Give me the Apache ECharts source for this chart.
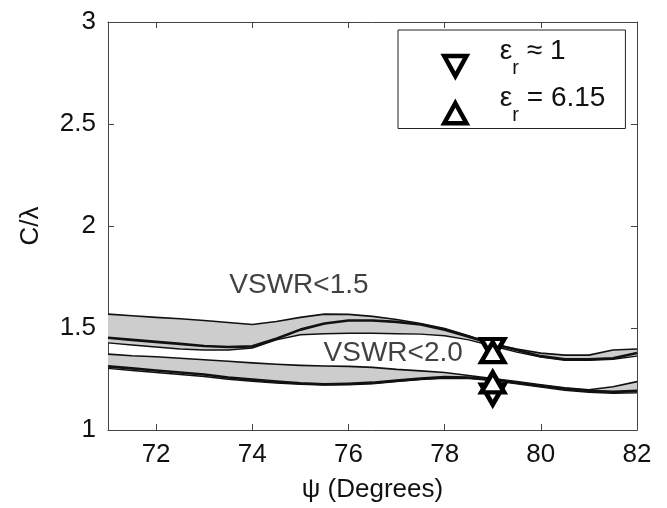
<!DOCTYPE html>
<html>
<head>
<meta charset="utf-8">
<script src="https://cdn.jsdelivr.net/npm/echarts@6/dist/echarts.min.js"></script>
<style>
  html, body { margin: 0; padding: 0; background: #fff; }
  #chart { width: 667px; height: 508px; }
</style>
</head>
<body>
<div id="chart"></div>
<script>
// Datos
const psi = [71, 71.5, 72, 72.5, 73, 73.5, 74, 74.5, 75, 75.5, 76, 76.5, 77, 77.5, 78, 78.5, 79, 79.5, 80, 80.5, 81, 81.5, 82];

// Grupo VSWR<1.5
const vswr15Top = [1.568, 1.560, 1.552, 1.545, 1.537, 1.527, 1.517, 1.532, 1.552, 1.568, 1.567, 1.557, 1.542, 1.522, 1.497, 1.462, 1.422, 1.397, 1.377, 1.367, 1.367, 1.392, 1.397];
const vswr15Mid = [1.452, 1.442, 1.432, 1.422, 1.412, 1.407, 1.410, 1.447, 1.492, 1.522, 1.537, 1.537, 1.530, 1.517, 1.492, 1.457, 1.422, 1.392, 1.362, 1.347, 1.347, 1.352, 1.377];
const vswr15Low = [1.427, 1.417, 1.407, 1.397, 1.392, 1.392, 1.402, 1.442, 1.467, 1.472, 1.474, 1.474, 1.472, 1.470, 1.462, 1.442, 1.412, 1.382, 1.357, 1.342, 1.342, 1.347, 1.362];

// Grupo VSWR<2.0
const vswr20Top = [1.372, 1.364, 1.359, 1.352, 1.344, 1.337, 1.329, 1.322, 1.317, 1.314, 1.312, 1.307, 1.297, 1.290, 1.282, 1.267, 1.252, 1.237, 1.222, 1.207, 1.197, 1.212, 1.237];
const vswr20Mid = [1.312, 1.302, 1.292, 1.282, 1.272, 1.257, 1.247, 1.237, 1.229, 1.224, 1.227, 1.232, 1.242, 1.252, 1.259, 1.257, 1.247, 1.232, 1.217, 1.202, 1.192, 1.187, 1.192];
const vswr20Low = [1.302, 1.292, 1.282, 1.272, 1.262, 1.249, 1.239, 1.230, 1.224, 1.220, 1.222, 1.227, 1.237, 1.247, 1.254, 1.252, 1.242, 1.227, 1.210, 1.195, 1.185, 1.180, 1.182];

// Marcadores en psi = 79
const marcadoresEr1 = [[79, 1.397], [79, 1.174]];
const marcadoresEr615 = [[79, 1.382], [79, 1.233]];
const nombresLeyenda = ['εr ≈ 1', 'εr = 6.15'];

// Anotaciones
const anotaciones = [[74.97, 1.711, 'VSWR<1.5'], [76.93, 1.377, 'VSWR<2.0']];

const xTicks = [72, 74, 76, 78, 80, 82];
const yTicks = [1, 1.5, 2, 2.5, 3];

const FUENTE = '"Liberation Sans", Arial, Helvetica, sans-serif';

const pares = arr => psi.map((x, i) => [x, arr[i]]);

// Banda gris entre dos curvas (polígono en coordenadas de los ejes)
function banda(inferior, superior) {
    return {
        type: 'custom', silent: true, z: 1, clip: true,
        data: [[psi[0], superior[0]]],
        renderItem: (params, api) => {
            const pts = psi.map((x, i) => api.coord([x, superior[i]]));
            for (let i = psi.length - 1; i >= 0; i--) pts.push(api.coord([psi[i], inferior[i]]));
            return { type: 'polygon', shape: { points: pts }, style: { fill: '#cdcdcd' } };
        }
    };
}

function linea(arr, ancho) {
    return {
        type: 'line', data: pares(arr), smooth: false, symbol: 'none', silent: true,
        lineStyle: { color: '#111', width: ancho, join: 'round' }, z: 3
    };
}

const trianguloAbajo = 'path://M0,0 L20,0 L10,18 Z';
const trianguloArriba = 'path://M10,0 L20,18 L0,18 Z';
const estiloMarcador = { color: '#fff', borderColor: '#000', borderWidth: 4.5, opacity: 1 };

const chart = echarts.init(document.getElementById('chart'));

chart.setOption({
    animation: false,
    backgroundColor: '#fff',
    textStyle: { fontFamily: FUENTE },
    grid: { left: 108, right: 30, top: 22, bottom: 78 },
    legend: {
        data: nombresLeyenda,
        orient: 'vertical',
        left: 398, top: 30,
        padding: [7, 20, 3, 44],
        itemGap: 6,
        itemWidth: 23, itemHeight: 20,
        backgroundColor: '#fff',
        borderColor: '#222', borderWidth: 1,
        selectedMode: false,
        itemStyle: { color: '#fff', borderColor: '#000', borderWidth: 4.5 },
        formatter: name => '{e|ε}{s|r}{t|' + name.slice(2) + '}',
        textStyle: {
            padding: [0, 0, 0, 28],
            rich: {
                e: { fontSize: 28, fontFamily: FUENTE, color: '#111', padding: [-15, 0, 15, 0] },
                s: { fontSize: 20, fontFamily: FUENTE, color: '#111', padding: [2, 0, -2, 0] },
                t: { fontSize: 28, fontFamily: FUENTE, color: '#111', padding: [-15, 0, 15, 0] }
            }
        }
    },
    xAxis: [
        {
            type: 'value', min: 71, max: 82,
            name: 'ψ (Degrees)', nameLocation: 'middle', nameGap: 47,
            nameTextStyle: { fontSize: 26, color: '#111', fontFamily: FUENTE },
            axisLine: { lineStyle: { color: '#444', width: 1 } },
            axisTick: { inside: true, length: 6, lineStyle: { color: '#444' }, customValues: xTicks },
            axisLabel: { fontSize: 26, color: '#111', margin: 12, customValues: xTicks },
            splitLine: { show: false }
        },
        {
            type: 'value', min: 71, max: 82, position: 'top',
            axisLine: { lineStyle: { color: '#444', width: 1 } },
            axisTick: { inside: true, length: 6, lineStyle: { color: '#444' }, customValues: xTicks },
            axisLabel: { show: false },
            splitLine: { show: false }
        }
    ],
    yAxis: [
        {
            type: 'value', min: 1, max: 3, interval: 0.5,
            name: 'C/λ', nameLocation: 'middle', nameGap: 64,
            nameTextStyle: { fontSize: 26, color: '#111', fontFamily: FUENTE },
            axisLine: { show: true, lineStyle: { color: '#444', width: 1 } },
            axisTick: { show: true, inside: true, length: 6, lineStyle: { color: '#444' }, customValues: yTicks },
            axisLabel: { fontSize: 26, color: '#111', margin: 12, customValues: yTicks },
            splitLine: { show: false }
        },
        {
            type: 'value', min: 1, max: 3, interval: 0.5, position: 'right',
            axisLine: { show: true, lineStyle: { color: '#444', width: 1 } },
            axisTick: { show: true, inside: true, length: 6, lineStyle: { color: '#444' }, customValues: yTicks },
            axisLabel: { show: false },
            splitLine: { show: false }
        }
    ],
    series: [
        banda(vswr15Low, vswr15Top),
        banda(vswr20Low, vswr20Top),
        linea(vswr15Top, 1.6),
        linea(vswr15Mid, 2.6),
        linea(vswr15Low, 1.4),
        linea(vswr20Top, 1.6),
        linea(vswr20Mid, 2.6),
        linea(vswr20Low, 1.4),
        {
            name: nombresLeyenda[0], type: 'scatter', data: marcadoresEr1,
            symbol: trianguloAbajo, symbolSize: [23, 20], z: 5,
            itemStyle: estiloMarcador
        },
        {
            name: nombresLeyenda[1], type: 'scatter', data: marcadoresEr615,
            symbol: trianguloArriba, symbolSize: [23, 20], z: 5,
            itemStyle: estiloMarcador
        },
        {
            type: 'scatter', data: anotaciones, symbolSize: 0, silent: true, z: 4,
            label: {
                show: true, position: 'inside',
                formatter: p => p.data[2],
                fontSize: 28, color: '#111', fontFamily: FUENTE
            }
        }
    ]
});
</script>
</body>
</html>
